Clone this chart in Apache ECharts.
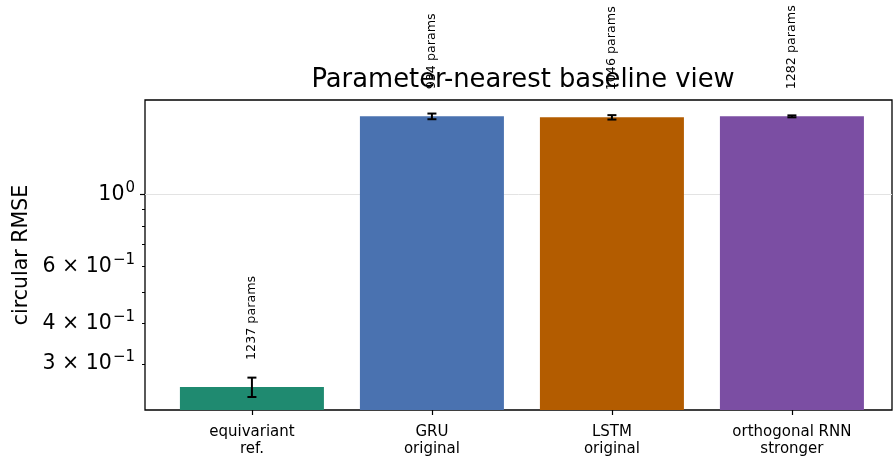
<!DOCTYPE html>
<html>
<head>
<meta charset="utf-8">
<script src="https://cdn.jsdelivr.net/npm/echarts@6/dist/echarts.min.js"></script>
<style>
html,body{margin:0;padding:0;background:#fff;}
#chart{width:894px;height:459px;}
</style>
</head>
<body>
<div id="chart"></div>
<script>
// ---- data ----
const categories = ['equivariant\nref.', 'GRU\noriginal', 'LSTM\noriginal', 'orthogonal RNN\nstronger'];
const rmse = [0.2548, 1.739, 1.727, 1.739];
const rmseErr = [0.0175, 0.035, 0.027, 0.012];
const paramCounts = [1237, 934, 1046, 1282];
const barColors = ['#1f8a70', '#4a72b0', '#b35c00', '#7b4ea3'];
const yMajorTicks = [1];
const yLabelTicks = [0.3, 0.4, 0.6];
const yMinorTicks = [0.3, 0.4, 0.5, 0.6, 0.7, 0.8, 0.9];
const yTickText = {1: '{b|10}{s|0}', 0.6: '{b|6 × 10}{s|−1}', 0.4: '{b|4 × 10}{s|−1}', 0.3: '{b|3 × 10}{s|−1}'};
const yMin = 0.2164, yMax = 1.953;
const xMin = -0.594, xMax = 3.556;

const FONT = 'DejaVu Sans';
const xIdx = categories.map((c, i) => i);

const chart = echarts.init(document.getElementById('chart'), null, {renderer: 'canvas'});

const barData = rmse.map((v, i) => ({
  value: [i, v],
  itemStyle: {color: barColors[i]}
}));
const errData = rmse.map((v, i) => [i, v - rmseErr[i], v + rmseErr[i]]);

const tickRich = {
  b: {fontFamily: FONT, fontSize: 20.5, color: '#000'},
  s: {fontFamily: FONT, fontSize: 15, color: '#000', padding: [0, 0, 13, 1]}
};

const yCommon = {
  type: 'log',
  logBase: 10,
  min: yMin,
  max: yMax,
  position: 'left',
  startValue: yMin
};

chart.setOption({
  animation: false,
  backgroundColor: '#fff',
  title: {
    text: 'Parameter-nearest baseline view',
    left: 518,
    textAlign: 'center',
    top: 62,
    textStyle: {fontFamily: FONT, fontSize: 25.8, fontWeight: 'normal', color: '#000'}
  },
  grid: {
    left: 145, right: 2, top: 100, bottom: 49,
    show: true, borderColor: '#000', borderWidth: 1.3, backgroundColor: 'transparent'
  },
  xAxis: {
    type: 'value',
    min: xMin, max: xMax,
    axisLine: {show: false, onZero: false},
    splitLine: {show: false},
    axisTick: {show: true, customValues: xIdx, length: 5, lineStyle: {color: '#000', width: 1.2}},
    axisLabel: {
      customValues: xIdx,
      formatter: v => categories[Math.round(v)],
      fontFamily: FONT, fontSize: 15, color: '#000', lineHeight: 17, margin: 14
    }
  },
  yAxis: [
    Object.assign({}, yCommon, {
      name: 'circular RMSE',
      nameLocation: 'middle',
      nameGap: 113,
      nameTextStyle: {fontFamily: FONT, fontSize: 20.5, color: '#000'},
      axisLine: {show: false, onZero: false},
      axisTick: {show: true, customValues: yMajorTicks, length: 5, lineStyle: {color: '#000', width: 1.2}},
      axisLabel: {customValues: yMajorTicks, formatter: v => yTickText[1], rich: tickRich, margin: 10},
      splitLine: {show: true, lineStyle: {color: '#e3e3e3', width: 1}}
    }),
    Object.assign({}, yCommon, {
      axisLine: {show: false, onZero: false},
      axisTick: {show: true, customValues: yMinorTicks, length: 3, lineStyle: {color: '#000', width: 1}},
      axisLabel: {
        customValues: yLabelTicks,
        formatter: v => yTickText[Math.round(v * 10) / 10],
        rich: tickRich, margin: 10
      },
      splitLine: {show: false}
    })
  ],
  series: [
    {
      type: 'bar',
      xAxisIndex: 0, yAxisIndex: 0,
      data: barData,
      barWidth: 144,
      label: {
        show: true,
        position: 'top',
        distance: 27,
        rotate: 90,
        align: 'left',
        verticalAlign: 'middle',
        formatter: p => paramCounts[p.dataIndex] + ' params',
        fontFamily: FONT, fontSize: 12.7, color: '#000'
      }
    },
    {
      type: 'custom',
      xAxisIndex: 0, yAxisIndex: 0,
      data: errData,
      encode: {x: 0, y: [1, 2]},
      z: 5,
      renderItem: function (params, api) {
        const x = api.value(0);
        const lo = api.coord([x, api.value(1)]);
        const hi = api.coord([x, api.value(2)]);
        const hw = 4.5;
        const st = {stroke: '#000', lineWidth: 2};
        return {
          type: 'group',
          children: [
            {type: 'line', shape: {x1: lo[0], y1: lo[1], x2: hi[0], y2: hi[1]}, style: st},
            {type: 'line', shape: {x1: lo[0] - hw, y1: lo[1], x2: lo[0] + hw, y2: lo[1]}, style: st},
            {type: 'line', shape: {x1: hi[0] - hw, y1: hi[1], x2: hi[0] + hw, y2: hi[1]}, style: st}
          ]
        };
      }
    }
  ]
});
</script>
</body>
</html>
